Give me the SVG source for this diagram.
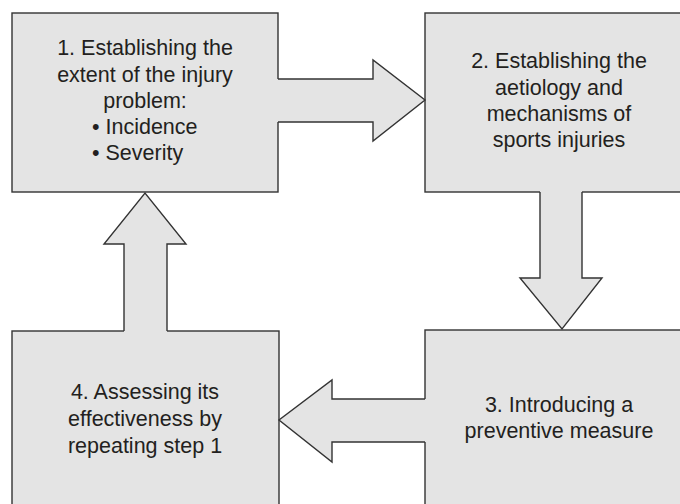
<svg xmlns="http://www.w3.org/2000/svg" width="680" height="504" viewBox="0 0 680 504">
<style>
.box{fill:#e4e4e4;stroke:#333;stroke-width:1.4}
.af{fill:#e4e4e4;stroke:none}
.al{fill:none;stroke:#333;stroke-width:1.4;stroke-linejoin:miter}
text{font-family:"Liberation Sans",Arial,sans-serif;font-size:21.5px;fill:#231f20}
.c{text-anchor:middle}
</style>
<rect width="680" height="504" fill="#fff"/>
<g id="node1">
<rect class="box" x="12" y="13" width="266" height="179"/>
<text class="c" x="145" y="55">1. Establishing the</text>
<text class="c" x="145" y="81.5">extent of the injury</text>
<text class="c" x="145" y="108">problem:</text>
<text x="92" y="134">• Incidence</text>
<text x="92" y="160">• Severity</text>
</g>
<g id="node2">
<rect class="box" x="425" y="13" width="268" height="179"/>
<text class="c" x="559" y="68">2. Establishing the</text>
<text class="c" x="559" y="94.5">aetiology and</text>
<text class="c" x="559" y="121">mechanisms of</text>
<text class="c" x="559" y="147">sports injuries</text>
</g>
<g id="node3">
<rect class="box" x="425" y="330" width="268" height="190"/>
<text class="c" x="559" y="411.5">3. Introducing a</text>
<text class="c" x="559" y="438">preventive measure</text>
</g>
<g id="node4">
<rect class="box" x="12" y="331" width="267" height="190"/>
<text class="c" x="145" y="399">4. Assessing its</text>
<text class="c" x="145" y="425.5">effectiveness by</text>
<text class="c" x="145" y="452.5">repeating step 1</text>
</g>
<g id="connectors">
<polygon class="af" points="276.5,79 373,79 373,60 425,100 373,141 373,122 276.5,122"/>
<polyline class="al" points="278,79 373,79 373,60 425,100 373,141 373,122 278,122"/>
<polygon class="af" points="540,190.5 582,190.5 582,278 602,278 562,329 520,278 540,278"/>
<polyline class="al" points="540,192 540,278 520,278 562,329 602,278 582,278 582,192"/>
<polygon class="af" points="426.5,399 332,399 332,380 279,420 332,462 332,442 426.5,442"/>
<polyline class="al" points="425,399 332,399 332,380 279,420 332,462 332,442 425,442"/>
<polygon class="af" points="124,332.5 124,244 104,244 145,193 186,244 167,244 167,332.5"/>
<polyline class="al" points="124,331 124,244 104,244 145,193 186,244 167,244 167,331"/>
</g>
</svg>
